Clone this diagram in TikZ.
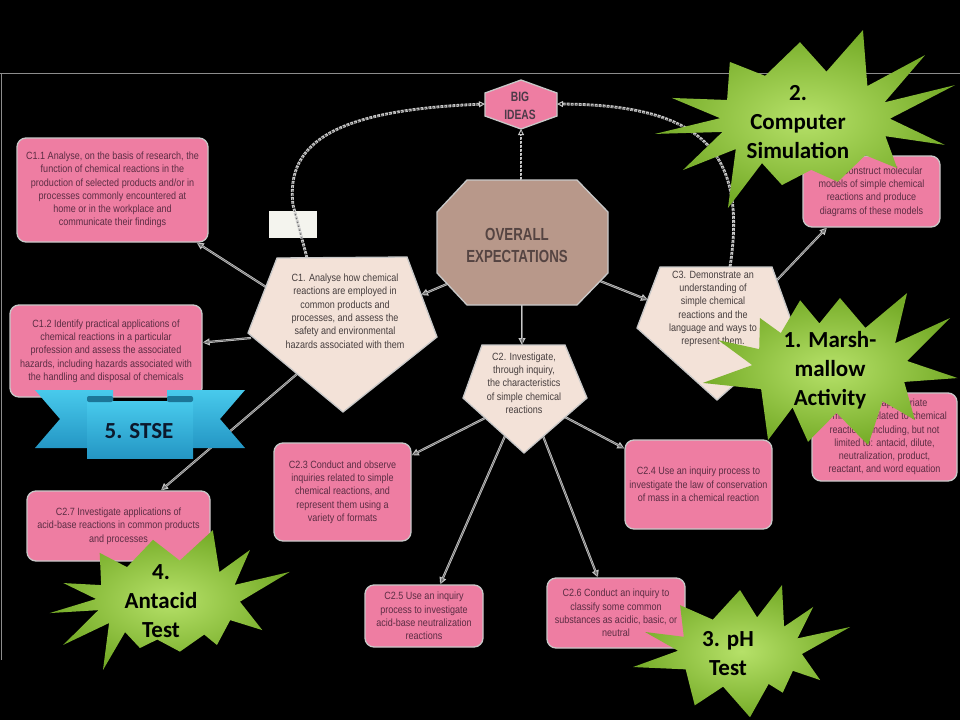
\documentclass[tikz,border=0pt]{standalone}
\usepackage{fontspec}
\setmainfont{Liberation Sans}
\newfontfamily\boxfont[FakeStretch=0.86]{Liberation Sans}
\newfontfamily\headfont[FakeStretch=0.76]{Liberation Sans}
\newfontfamily\burstfont{Carlito}
\usetikzlibrary{arrows.meta}
\definecolor{pinkfill}{RGB}{238,125,162}
\definecolor{pinktext}{RGB}{92,45,68}
\definecolor{beige}{RGB}{243,226,216}
\definecolor{beigetext}{RGB}{70,62,62}
\definecolor{octfill}{RGB}{184,152,138}
\definecolor{octtext}{RGB}{85,68,66}
\definecolor{edge}{RGB}{200,200,200}
\definecolor{linedark}{RGB}{110,110,110}
\definecolor{framec}{RGB}{140,140,140}
\definecolor{greenin}{RGB}{182,225,105}
\definecolor{greenout}{RGB}{118,172,40}
\definecolor{ribtop}{RGB}{72,202,236}
\definecolor{ribbot}{RGB}{36,150,196}
\definecolor{ribfold}{RGB}{28,118,152}
\definecolor{ribtext}{RGB}{12,25,45}
\definecolor{whitebox}{RGB}{244,244,238}
\begin{document}
\begin{tikzpicture}[x=1pt,y=-1pt,
  pinkbox/.style={draw=edge, line width=1.3pt, fill=pinkfill, rounded corners=9pt, text=pinktext,
    font=\boxfont\fontsize{10.5}{13.3}\selectfont, align=center, inner sep=0pt},
  pentshape/.style={draw=edge, line width=1.3pt, fill=beige},
  pentlabel/.style={text=beigetext, font=\boxfont\fontsize{10.5}{13.3}\selectfont, align=center, inner sep=0pt},
  conn/.style={draw=edge, line width=2.2pt, -{Triangle[length=7pt,width=7pt,line width=1pt,fill=linedark]},
    postaction={draw=linedark, line width=0.7pt, -}},
  chain/.style={draw=edge, line width=2.8pt, dash pattern=on 3pt off 1pt,
    -{Triangle[open,length=6pt,width=6pt,line width=1pt]},
    postaction={draw=linedark, line width=1pt, dash pattern=on 1.4pt off 2.6pt, -}},
  burst/.style={inner color=greenin, outer color=greenout},
  burstlabel/.style={font=\burstfont\bfseries\fontsize{23}{29}\selectfont, align=center, text=black, inner sep=0pt}]
\fill[black] (0,0) rectangle (960,720);
\useasboundingbox (0,0) rectangle (960,720);
\draw[framec, line width=1pt] (0,73) -- (960,73);
\draw[framec, line width=1pt] (1,73) -- (1,660);
\fill[whitebox] (269,211) rectangle (317,238);
% named points on borders
\coordinate (bi-l) at (485,104);
\coordinate (bi-r) at (557,104);
\coordinate (bi-b) at (521,129);
\coordinate (oe-t) at (521,180);
\coordinate (oe-l) at (447,284);
\coordinate (oe-b) at (522,305);
\coordinate (oe-r) at (600,281);
\coordinate (c1-t) at (307,258);
\coordinate (c1-r) at (421,295);
\coordinate (c1-ul) at (266,287);
\coordinate (c1-l) at (251,338);
\coordinate (c1-ll) at (297,374);
\coordinate (c2-t) at (522,345);
\coordinate (c2-a) at (485,418);
\coordinate (c2-b) at (505,436);
\coordinate (c2-c) at (543,436);
\coordinate (c2-d) at (565,417);
\coordinate (c3-t) at (730,267);
\coordinate (c3-l) at (648,300);
\coordinate (c3-ur) at (777,280);
% boxes
\node[pinkbox, minimum width=191pt, minimum height=104pt] (c11) at (112.5,190) {C1.1 Analyse, on the basis of research, the\\function of chemical reactions in the\\production of selected products and/or in\\processes commonly encountered at\\home or in the workplace and\\communicate their findings};
\node[pinkbox, minimum width=192pt, minimum height=92pt] (c12) at (106,351) {C1.2 Identify practical applications of\\chemical reactions in a particular\\profession and assess the associated\\hazards, including hazards associated with\\the handling and disposal of chemicals};
\node[pinkbox, minimum width=183pt, minimum height=70pt] (c27) at (118.5,526) {C2.7 Investigate applications of\\acid-base reactions in common products\\and processes};
\node[pinkbox, minimum width=137pt, minimum height=98pt] (c23) at (342.5,492) {C2.3 Conduct and observe\\inquiries related to simple\\chemical reactions, and\\represent them using a\\variety of formats};
\node[pinkbox, minimum width=147pt, minimum height=89pt] (c24) at (698.5,484.5) {C2.4 Use an inquiry process to\\investigate the law of conservation\\of mass in a chemical reaction};
\node[pinkbox, minimum width=118pt, minimum height=62pt] (c25) at (424,616) {C2.5 Use an inquiry\\process to investigate\\acid-base neutralization\\reactions};
\node[pinkbox, minimum width=138pt, minimum height=70pt] (c26) at (616,613) {C2.6 Conduct an inquiry to\\classify some common\\substances as acidic, basic, or\\neutral};
\node[pinkbox, minimum width=137pt, minimum height=71pt] (c22) at (871.5,191.5) {C2.2 Construct molecular\\models of simple chemical\\reactions and produce\\diagrams of these models};
\node[pinkbox, minimum width=145pt, minimum height=88pt] (c31) at (884.5,437) {C3.1 Use appropriate\\terminology related to chemical\\reactions, including, but not\\limited to: antacid, dilute,\\neutralization, product,\\reactant, and word equation};
% connectors
\draw[conn] (oe-l) -- (c1-r);
\draw[conn] (oe-b) -- (c2-t);
\draw[conn] (oe-r) -- (c3-l);
\draw[conn] (c1-ul) -- (c11.-32);
\draw[conn] (c1-l) -- (c12.5);
\draw[conn] (c1-ll) -- (c27.40);
\draw[conn] (c2-a) -- (c23.28);
\draw[conn] (c2-d) -- (c24.154.5);
\draw[conn] (c2-b) -- (c25.63);
\draw[conn] (c2-c) -- (c26.117);
\draw[conn] (c3-ur) -- (c22.219);
\draw[chain] (c1-t) -- (293,205) .. controls (285,140) and (340,110) .. (bi-l);
\draw[chain] (c3-t) .. controls (748,150) and (700,105) .. (bi-r);
\draw[chain] (oe-t) -- (bi-b);
% big ideas and overall
\filldraw[draw=edge, line width=1.3pt, fill=pinkfill] (521,80) -- (557,93) -- (557,116) -- (521,129) -- (485,116) -- (485,93) -- cycle;
\node[font=\headfont\bfseries\fontsize{13.5}{18}\selectfont, text={rgb,255:red,75;green,58;blue,72}, align=center, inner sep=0pt] (bi) at (520,106) {BIG\\IDEAS};
\filldraw[draw=edge, line width=1.3pt, fill=octfill] (467,180) -- (577,180) -- (608,212) -- (608,273) -- (577,305) -- (467,305) -- (437,273) -- (437,212) -- cycle;
\node[font=\headfont\bfseries\fontsize{17.5}{22}\selectfont, text=octtext, align=center, inner sep=0pt] (oe) at (517,245) {OVERALL\\EXPECTATIONS};
% pentagons
\filldraw[pentshape] (277,258) -- (407,257) -- (437,337) -- (343,412) -- (248,333) -- cycle;
\node[pentlabel] (c1) at (345,311) {C1. Analyse how chemical\\reactions are employed in\\common products and\\processes, and assess the\\safety and environmental\\hazards associated with them};
\filldraw[pentshape] (482,345) -- (565,345) -- (587,398) -- (524,453) -- (463,398) -- cycle;
\node[pentlabel] (c2) at (524,383) {C2. Investigate,\\through inquiry,\\the characteristics\\of simple chemical\\reactions};
\filldraw[pentshape] (660,267) -- (772,267) -- (795,331) -- (717,400) -- (637,328) -- cycle;
\node[pentlabel] (c3) at (713,309) {C3. Demonstrate an\\understanding of\\simple chemical\\reactions and the\\language and ways to\\represent them.};
% starbursts
\begin{scope}[shift={(805,120)}]
\shade[burst] (266.3:78) -- (284.6:85 and 50) -- (302.8:107) -- (317.2:85 and 50) -- (331.6:136.5) -- (339.3:85 and 50) -- (346.9:154) -- (358.5:85 and 50) -- (10.1:142) -- (18.9:85 and 50) -- (27.6:104) -- (44.8:85 and 50) -- (62:70) -- (85.8:85 and 50) -- (109.5:69) -- (120.4:85 and 50) -- (131.2:117) -- (144.5:85 and 50) -- (157.7:132) -- (166.2:85 and 50) -- (174.7:150.7) -- (182.1:85 and 50) -- (189.4:135) -- (203.6:85 and 50) -- (217.7:95) -- (242:85 and 50) -- cycle;
\end{scope}
\node[burstlabel] (s2) at (798,122) {2.\\Computer\\Simulation};
\begin{scope}[shift={(830,368)}]
\shade[burst] (315.8:107.5) -- (326.6:78 and 45) -- (337.4:130) -- (351:78 and 45) -- (4.5:128) -- (18:78 and 45) -- (31.5:99.6) -- (47.6:78 and 45) -- (63.7:86) -- (85.2:78 and 45) -- (106.6:77) -- (118.7:78 and 45) -- (130.7:95) -- (152:78 and 45) -- (173.3:128) -- (183.7:78 and 45) -- (194:115) -- (204.8:78 and 45) -- (215.5:86) -- (230.9:78 and 45) -- (246.2:74) -- (262.2:78 and 45) -- (278.1:70.7) -- (297:78 and 45) -- cycle;
\end{scope}
\node[burstlabel] (s1) at (830,370) {1. Marsh-\\mallow\\Activity};
\begin{scope}[shift={(740,652)}]
\shade[burst] (302.1:79) -- (315.3:62 and 36) -- (328.4:86) -- (337.8:62 and 36) -- (347.2:113) -- (3.2:62 and 36) -- (19.3:85) -- (31.5:62 and 36) -- (43.6:59) -- (62.5:62 and 36) -- (81.3:66) -- (105.8:62 and 36) -- (130.3:70) -- (151.2:62 and 36) -- (172:108) -- (182:62 and 36) -- (191.9:97) -- (205:62 and 36) -- (218:76) -- (244:62 and 36) -- (270:62) -- (286:62 and 36) -- cycle;
\end{scope}
\node[burstlabel] (s3) at (728,654) {3. pH\\Test};
\begin{scope}[shift={(168,600)}]
\shade[burst] (302.7:83) -- (315.6:72 and 40) -- (328.6:96) -- (337.8:72 and 40) -- (347:125) -- (2.4:72 and 40) -- (17.7:99) -- (30.2:72 and 40) -- (42.6:66.5) -- (59.8:72 and 40) -- (77:53) -- (98.6:72 and 40) -- (120.3:55.6) -- (126.6:72 and 40) -- (132.9:95.5) -- (144.9:72 and 40) -- (156.8:114) -- (165.3:72 and 40) -- (173.7:119) -- (181.5:72 and 40) -- (189.2:106) -- (201.9:72 and 40) -- (214.6:83) -- (235.3:72 and 40) -- (256:62) -- (279.4:72 and 40) -- cycle;
\end{scope}
\node[burstlabel] (s4) at (161,601) {4.\\Antacid\\Test};
% ribbon
\shade[top color=ribtop, bottom color=ribbot] (35,390) -- (113,390) -- (113,448) -- (35,448) -- (60,419) -- cycle;
\shade[top color=ribtop, bottom color=ribbot] (167,390) -- (245,390) -- (220,419) -- (245,448) -- (167,448) -- cycle;
\shade[top color=ribtop, bottom color=ribbot] (87,401) rectangle (193,458);
\fill[ribfold, rounded corners=2pt] (87,396) rectangle (113,402);
\fill[ribfold, rounded corners=2pt] (167,396) rectangle (193,402);
\node[font=\burstfont\bfseries\fontsize{23}{28}\selectfont, text=ribtext, inner sep=0pt] (stse) at (139,431) {5. STSE};
\end{tikzpicture}
\end{document}
